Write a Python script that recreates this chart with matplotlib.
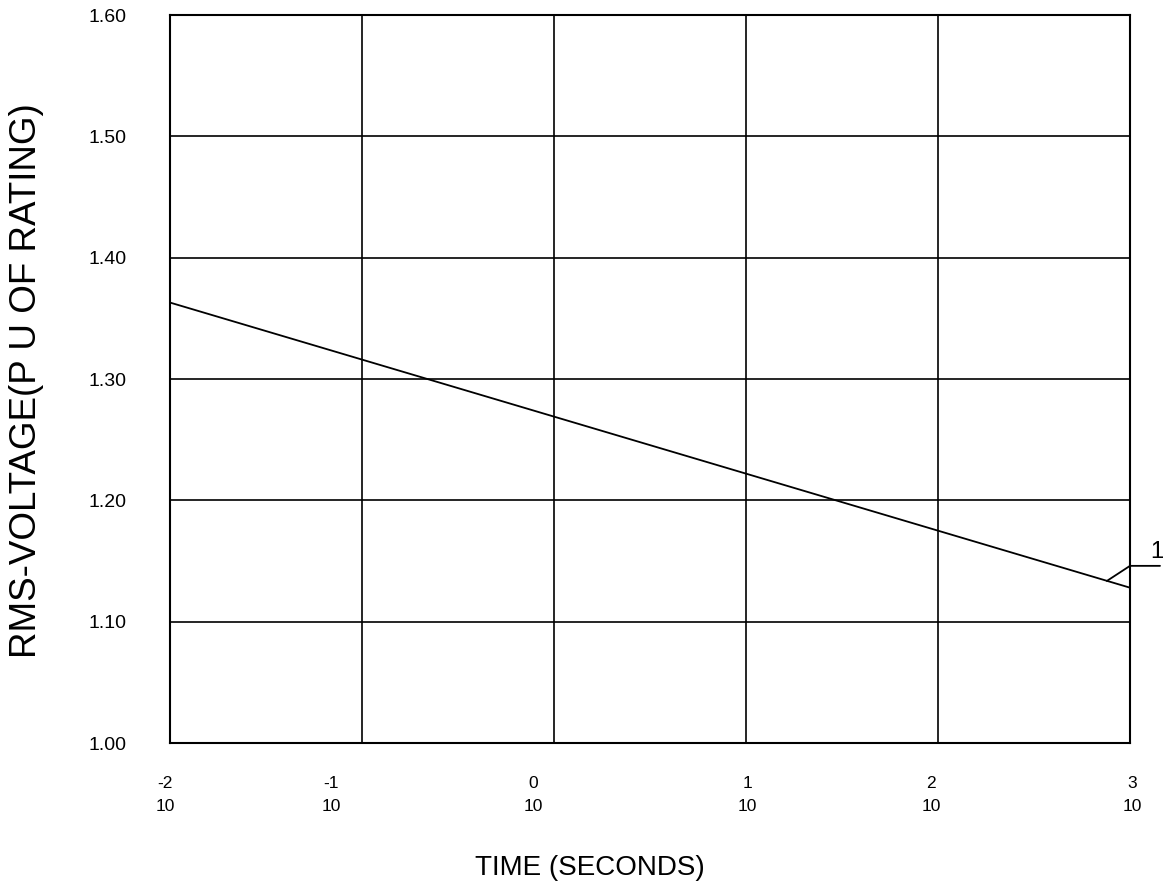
import matplotlib
matplotlib.use("Agg")
import matplotlib.pyplot as plt
import matplotlib.transforms as mtransforms
import numpy as np

plt.rcParams['font.family'] = ['Liberation Sans', 'DejaVu Sans']

# Data
time_s = [1e-2, 1e-1, 1e0, 1e1, 1e2, 1e3]
voltage_pu = [1.363, 1.316, 1.269, 1.222, 1.175, 1.128]
x_exponents = [-2, -1, 0, 1, 2, 3]
y_ticks = [1.00, 1.10, 1.20, 1.30, 1.40, 1.50, 1.60]
curve_label = "1"
label_anchor_t = 759.0
label_lead_v = 1.146

# layout: small horizontal shifts (pixels) of the x tick labels, as in the reference
x_label_shift_px = [-5, -31, -21, 1, -7, 2]

fig = plt.figure(figsize=(11.64, 8.90), dpi=100)
ax = fig.add_axes([170/1164, 1-743/890, 960/1164, 728/890])

ax.plot(time_s, voltage_pu, color='black', lw=1.3, zorder=3)

ax.set_xscale('log')
ax.set_xlim(1e-2, 1e3)
ax.set_ylim(1.0, 1.6)

xt = [10.0**e for e in x_exponents]
ax.set_xticks(xt)
ax.set_xticklabels([f"{e}\n10" for e in x_exponents], fontsize=12.5, linespacing=1.68)
ax.xaxis.set_minor_locator(matplotlib.ticker.NullLocator())
ax.set_yticks(y_ticks)
ax.set_yticklabels([f"{v:.2f}" for v in y_ticks], fontsize=14)
ax.tick_params(axis='both', length=0)
ax.tick_params(axis='x', pad=24)
ax.tick_params(axis='y', pad=31)

for lab, dx in zip(ax.get_xticklabels(), x_label_shift_px):
    lab.set_transform(lab.get_transform() +
                      mtransforms.ScaledTranslation(dx / 100, 0, fig.dpi_scale_trans))

ax.grid(True, color='black', lw=1.2)
for s in ax.spines.values():
    s.set_linewidth(1.5)
    s.set_color('black')

fig.text(590/1164, 1-868/890, "TIME (SECONDS)", fontsize=20, ha='center', va='center')
fig.text(27/1164, 1-381/890, "RMS-VOLTAGE(P U OF RATING)", fontsize=26.5,
         ha='center', va='center', rotation=90)

# curve label leader
y_anchor = np.interp(np.log10(label_anchor_t), np.log10(time_s), voltage_pu)
ax.plot([label_anchor_t, 1e3], [y_anchor, label_lead_v], color='black', lw=1.3, clip_on=False)
ax.annotate("", xy=(1e3, label_lead_v), xytext=(30, 0), textcoords='offset pixels',
            xycoords='data', arrowprops=dict(arrowstyle='-', color='black', lw=1.3,
                                             shrinkA=0, shrinkB=0))
ax.annotate(curve_label, xy=(1e3, label_lead_v), xytext=(20, 3), textcoords='offset pixels',
            fontsize=17, ha='left', va='bottom', annotation_clip=False)

fig.savefig("out.png", dpi=100)
